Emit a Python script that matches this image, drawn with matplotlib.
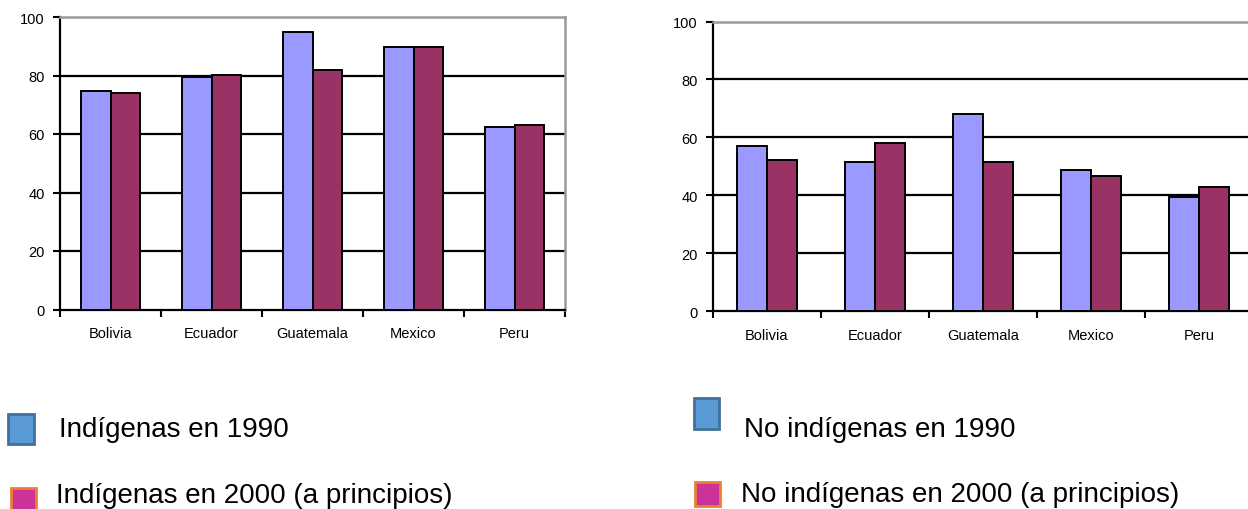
import matplotlib
matplotlib.use("Agg")
import matplotlib.pyplot as plt
import numpy as np
from matplotlib.patches import Rectangle
from matplotlib import font_manager

names = {f.name for f in font_manager.fontManager.ttflist}
NARROW = "Liberation Sans Narrow" if "Liberation Sans Narrow" in names else None

plt.rcParams['font.family'] = ['Liberation Sans', 'DejaVu Sans']

countries = ["Bolivia", "Ecuador", "Guatemala", "Mexico", "Peru"]
ind_1990 = [74.7, 79.6, 94.8, 89.7, 62.4]
ind_2000 = [74.0, 80.3, 81.8, 89.7, 63.1]
noind_1990 = [57.0, 51.3, 67.9, 48.6, 39.4]
noind_2000 = [52.0, 58.2, 51.3, 46.5, 43.0]
yticks = [0, 20, 40, 60, 80, 100]

legend_left = ["Indígenas en 1990", "Indígenas en 2000 (a principios)"]
legend_right = ["No indígenas en 1990", "No indígenas en 2000 (a principios)"]

W, H = 1248, 510
fig = plt.figure(figsize=(W / 100, H / 100), dpi=100)

BAR_BLUE = "#9999FF"
BAR_RED = "#993366"

if NARROW:
    tick_font = dict(family=[NARROW, 'Liberation Sans'], size=12.5)
else:
    tick_font = dict(family=['Liberation Sans'], size=10.5)


def panel(rect, v1, v2, bar_w, show_right):
    ax = fig.add_axes(rect)
    x = np.arange(len(countries))
    ax.set_xlim(-0.5, len(countries) - 0.5)
    ax.set_ylim(0, 100)
    for y in yticks[1:-1]:
        ax.axhline(y, color="black", lw=1.6, zorder=1)
    ax.bar(x - bar_w / 2, v1, bar_w, color=BAR_BLUE, edgecolor="black", lw=1.4, zorder=3)
    ax.bar(x + bar_w / 2, v2, bar_w, color=BAR_RED, edgecolor="black", lw=1.4, zorder=3)
    ax.set_yticks(yticks)
    ax.set_yticklabels([str(t) for t in yticks], fontdict=tick_font)
    ax.set_xticks(np.arange(len(countries) + 1) - 0.5)
    ax.set_xticklabels([])
    ax.set_xticks(x, minor=True)
    ax.set_xticklabels(countries, minor=True, fontdict=tick_font)
    ax.tick_params(axis="x", which="minor", length=0, pad=12)
    ax.tick_params(axis="x", which="major", length=5, width=1.5, direction="out")
    ax.tick_params(axis="y", length=5, width=1.5, direction="out", pad=6)
    ax.spines["left"].set_linewidth(1.6)
    ax.spines["bottom"].set_linewidth(1.6)
    ax.spines["top"].set_color("#999999")
    ax.spines["top"].set_linewidth(1.8)
    if show_right:
        ax.spines["right"].set_color("#999999")
        ax.spines["right"].set_linewidth(1.8)
    else:
        ax.spines["right"].set_visible(False)
    return ax


panel([60 / W, 1 - 310.5 / H, 505 / W, 292.5 / H], ind_1990, ind_2000, 0.295, True)
panel([713 / W, 1 - 312 / H, 540 / W, 289.5 / H], noind_1990, noind_2000, 0.28, False)


def legend_item(x, y, w, h, face, edge, label, tx, ty):
    fig.patches.append(Rectangle((x / W, 1 - (y + h) / H), w / W, h / H,
                                 transform=fig.transFigure, facecolor=face,
                                 edgecolor=edge, lw=2))
    fig.text(tx / W, 1 - ty / H, label, fontsize=20, va="baseline", ha="left")


BLUE_L, BLUE_E = "#5B9BD5", "#41719C"
PINK_L, PINK_E = "#CC3399", "#ED7D31"
legend_item(8, 415, 26, 30, BLUE_L, BLUE_E, legend_left[0], 59, 437)
legend_item(11, 489, 25, 24, PINK_L, PINK_E, legend_left[1], 56, 503)
legend_item(694, 399, 25, 31, BLUE_L, BLUE_E, legend_right[0], 744, 437)
legend_item(695, 483, 25, 24, PINK_L, PINK_E, legend_right[1], 741, 502)

fig.savefig("out.png", dpi=100)
